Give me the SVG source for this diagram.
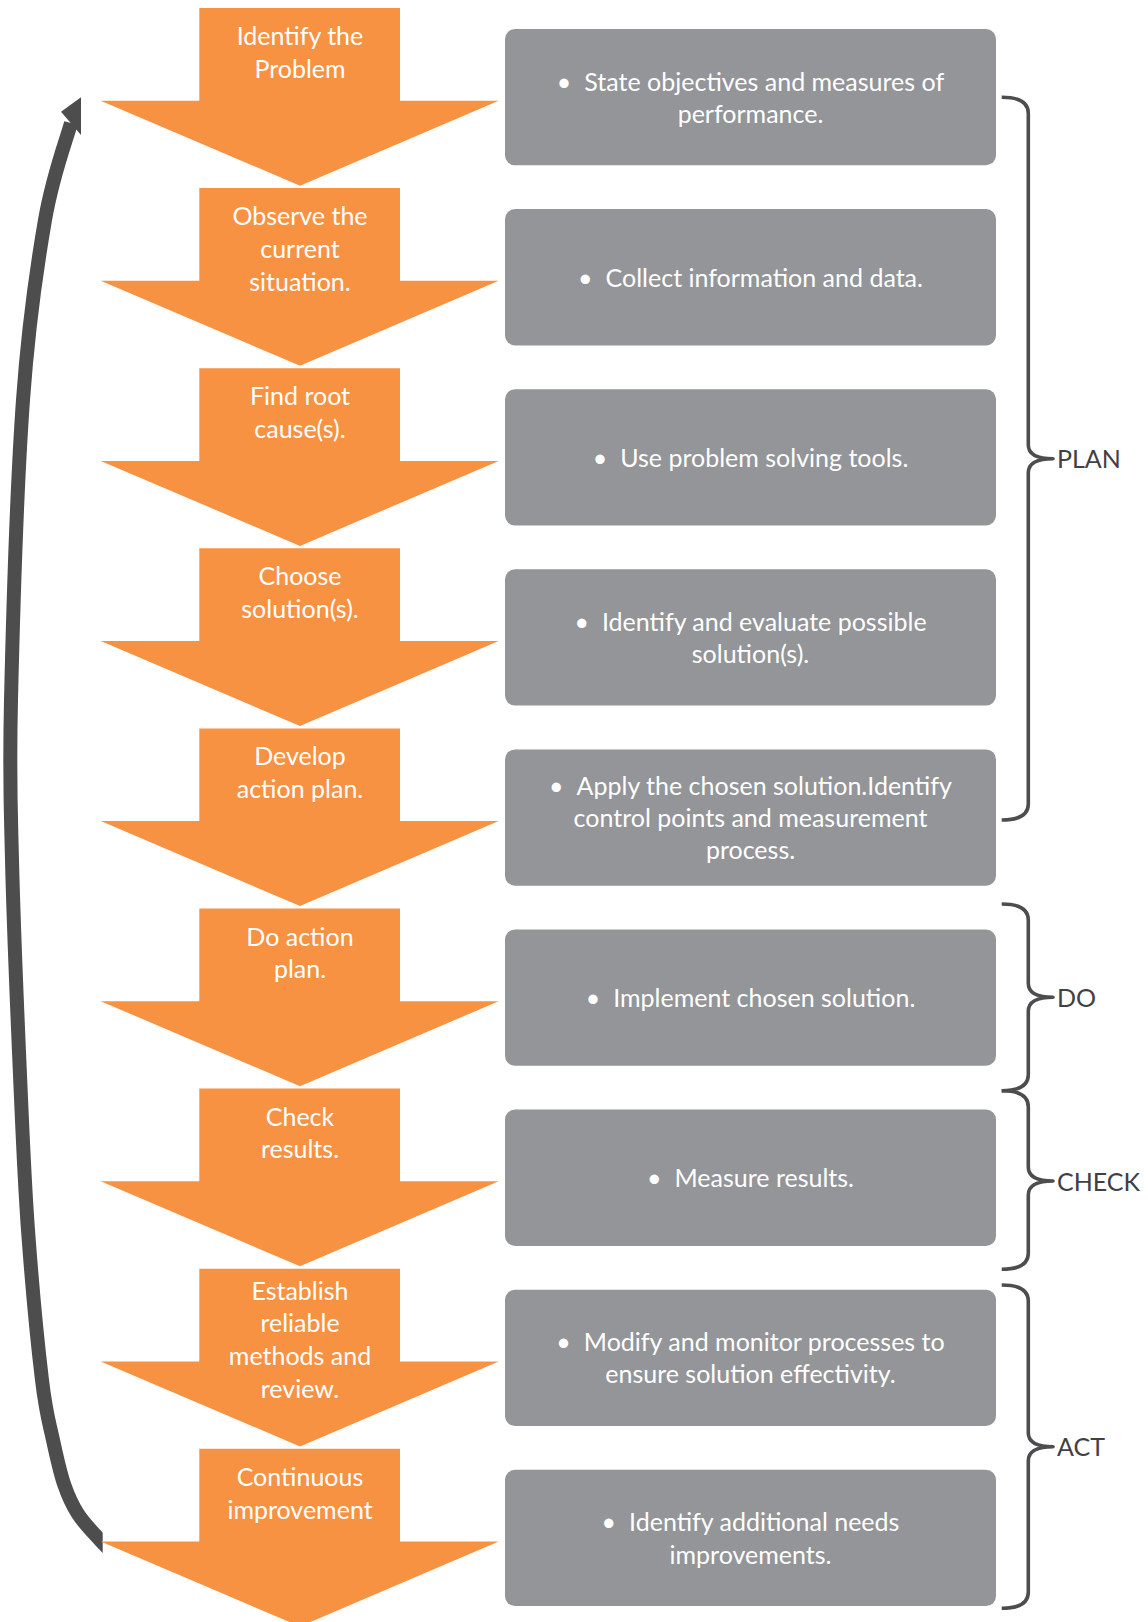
<svg xmlns="http://www.w3.org/2000/svg" width="1148" height="1622" viewBox="0 0 1148 1622">
  <style>
    .step { fill: #F79243; }
    .box { fill: #939598; }
    .stepText { font-family: Lato, "Liberation Sans", sans-serif; font-size: 25px; fill: #FFFFFF; text-anchor: middle; }
    .boxText { font-family: Lato, "Liberation Sans", sans-serif; font-size: 25px; fill: #FFFFFF; text-anchor: middle; }
    .brace { fill: none; stroke: #4D4D4F; stroke-width: 3.6; stroke-linejoin: round; }
    .phase { font-family: Lato, "Liberation Sans", sans-serif; font-size: 25px; fill: #414042; }
    .loop { fill: none; stroke: #4D4D4D; stroke-width: 14; }
  </style>
  <defs>
    <!-- block arrow pointing down: shaft on top, wide head below -->
    <path id="downArrow" d="M199.3,0 H400 V92.7 H498.7 L300,177.7 L100.7,92.7 H199.3 Z"/>
    <clipPath id="loopClip">
      <rect x="0" y="0" width="102.7" height="1622"/>
    </clipPath>
  </defs>

  <rect width="1148" height="1622" fill="#FFFFFF"/>

  <!-- connectors: the return loop and the phase braces -->
  <g id="connectors">
    <g id="loop-arrow" clip-path="url(#loopClip)">
      <path class="loop" d="M71,123 C66.7,139.2 53,173.8 45,220 C37,266.2 28.7,320 23,400 C17.3,480 12.8,623.3 11,700 C9.2,776.7 10.5,797.5 12,860 C13.5,922.5 17.3,1013.3 20,1075 C22.7,1136.7 24.3,1179.2 28,1230 C31.7,1280.8 37.8,1345 42,1380 C46.2,1415 49.3,1422.7 53,1440 C56.7,1457.3 59.8,1471.7 64,1484 C68.2,1496.3 72,1504.7 78,1514 C84,1523.3 93.8,1533.2 100,1540 C106.2,1546.8 112.5,1552.5 115,1555"/>
      <polygon points="81,97.3 61,111.7 81,135" fill="#4D4D4D"/>
    </g>
    <path class="brace" d="M1001.7,97.3 Q1028.3,97.3 1028.3,113.3 L1028.3,444.7 Q1028.3,458.7 1053,458.7 Q1028.3,458.7 1028.3,472.7 L1028.3,804 Q1028.3,820 1001.7,820"/>
    <path class="brace" d="M1001.7,904 Q1028.3,904 1028.3,920 L1028.3,983.3 Q1028.3,997.3 1053,997.3 Q1028.3,997.3 1028.3,1011.3 L1028.3,1074.7 Q1028.3,1090.7 1001.7,1090.7"/>
    <path class="brace" d="M1001.7,1090.7 Q1028.3,1090.7 1028.3,1106.7 L1028.3,1167 Q1028.3,1181 1053,1181 Q1028.3,1181 1028.3,1195 L1028.3,1253.3 Q1028.3,1269.3 1001.7,1269.3"/>
    <path class="brace" d="M1001.7,1285 Q1028.3,1285 1028.3,1301 L1028.3,1432.7 Q1028.3,1446.7 1053,1446.7 Q1028.3,1446.7 1028.3,1460.7 L1028.3,1592.3 Q1028.3,1608.3 1001.7,1608.3"/>
  </g>

  <!-- phase labels -->
  <g id="phase-plan"><text class="phase" x="1057" y="468">PLAN</text></g>
  <g id="phase-do"><text class="phase" x="1057" y="1006.7">DO</text></g>
  <g id="phase-check"><text class="phase" x="1057" y="1190.7">CHECK</text></g>
  <g id="phase-act"><text class="phase" x="1057" y="1455.7">ACT</text></g>

  <!-- process steps -->
  <g id="step-1">
    <use href="#downArrow" class="step" transform="translate(0,8)"/>
    <text class="stepText" x="300" y="45">Identify the</text>
    <text class="stepText" x="300" y="77.8">Problem</text>
  </g>
  <g id="step-2">
    <use href="#downArrow" class="step" transform="translate(0,188.1)"/>
    <text class="stepText" x="300" y="225.1">Observe the</text>
    <text class="stepText" x="300" y="257.9">current</text>
    <text class="stepText" x="300" y="290.7">situation.</text>
  </g>
  <g id="step-3">
    <use href="#downArrow" class="step" transform="translate(0,368.2)"/>
    <text class="stepText" x="300" y="405.2">Find root</text>
    <text class="stepText" x="300" y="438">cause(s).</text>
  </g>
  <g id="step-4">
    <use href="#downArrow" class="step" transform="translate(0,548.3)"/>
    <text class="stepText" x="300" y="585.3">Choose</text>
    <text class="stepText" x="300" y="618.1">solution(s).</text>
  </g>
  <g id="step-5">
    <use href="#downArrow" class="step" transform="translate(0,728.4)"/>
    <text class="stepText" x="300" y="765.4">Develop</text>
    <text class="stepText" x="300" y="798.2">action plan.</text>
  </g>
  <g id="step-6">
    <use href="#downArrow" class="step" transform="translate(0,908.5)"/>
    <text class="stepText" x="300" y="945.5">Do action</text>
    <text class="stepText" x="300" y="978.3">plan.</text>
  </g>
  <g id="step-7">
    <use href="#downArrow" class="step" transform="translate(0,1088.6)"/>
    <text class="stepText" x="300" y="1125.6">Check</text>
    <text class="stepText" x="300" y="1158.4">results.</text>
  </g>
  <g id="step-8">
    <use href="#downArrow" class="step" transform="translate(0,1268.7)"/>
    <text class="stepText" x="300" y="1299.5">Establish</text>
    <text class="stepText" x="300" y="1332.3">reliable</text>
    <text class="stepText" x="300" y="1365.1">methods and</text>
    <text class="stepText" x="300" y="1397.9">review.</text>
  </g>
  <g id="step-9">
    <use href="#downArrow" class="step" transform="translate(0,1448.8)"/>
    <text class="stepText" x="300" y="1485.8">Continuous</text>
    <text class="stepText" x="300" y="1518.6">improvement</text>
  </g>

  <!-- detail boxes -->
  <g id="detail-1">
    <rect class="box" x="505" y="29" width="491" height="136.3" rx="10"/>
    <text class="boxText" x="750.5" y="90.55"><tspan>•</tspan><tspan dx="13">State objectives and measures of</tspan></text>
    <text class="boxText" x="750.5" y="122.75">performance.</text>
  </g>
  <g id="detail-2">
    <rect class="box" x="505" y="209.1" width="491" height="136.3" rx="10"/>
    <text class="boxText" x="750.5" y="286.75"><tspan>•</tspan><tspan dx="13">Collect information and data.</tspan></text>
  </g>
  <g id="detail-3">
    <rect class="box" x="505" y="389.2" width="491" height="136.3" rx="10"/>
    <text class="boxText" x="750.5" y="466.85"><tspan>•</tspan><tspan dx="13">Use problem solving tools.</tspan></text>
  </g>
  <g id="detail-4">
    <rect class="box" x="505" y="569.3" width="491" height="136.3" rx="10"/>
    <text class="boxText" x="750.5" y="630.85"><tspan>•</tspan><tspan dx="13">Identify and evaluate possible</tspan></text>
    <text class="boxText" x="750.5" y="663.05">solution(s).</text>
  </g>
  <g id="detail-5">
    <rect class="box" x="505" y="749.4" width="491" height="136.3" rx="10"/>
    <text class="boxText" x="750.5" y="794.85"><tspan>•</tspan><tspan dx="13">Apply the chosen solution.Identify</tspan></text>
    <text class="boxText" x="750.5" y="827.05">control points and measurement</text>
    <text class="boxText" x="750.5" y="859.25">process.</text>
  </g>
  <g id="detail-6">
    <rect class="box" x="505" y="929.5" width="491" height="136.3" rx="10"/>
    <text class="boxText" x="750.5" y="1007.15"><tspan>•</tspan><tspan dx="13">Implement chosen solution.</tspan></text>
  </g>
  <g id="detail-7">
    <rect class="box" x="505" y="1109.6" width="491" height="136.3" rx="10"/>
    <text class="boxText" x="750.5" y="1187.25"><tspan>•</tspan><tspan dx="13">Measure results.</tspan></text>
  </g>
  <g id="detail-8">
    <rect class="box" x="505" y="1289.7" width="491" height="136.3" rx="10"/>
    <text class="boxText" x="750.5" y="1351.25"><tspan>•</tspan><tspan dx="13">Modify and monitor processes to</tspan></text>
    <text class="boxText" x="750.5" y="1383.45">ensure solution effectivity.</text>
  </g>
  <g id="detail-9">
    <rect class="box" x="505" y="1469.8" width="491" height="136.3" rx="10"/>
    <text class="boxText" x="750.5" y="1531.35"><tspan>•</tspan><tspan dx="13">Identify additional needs</tspan></text>
    <text class="boxText" x="750.5" y="1563.55">improvements.</text>
  </g>
</svg>
